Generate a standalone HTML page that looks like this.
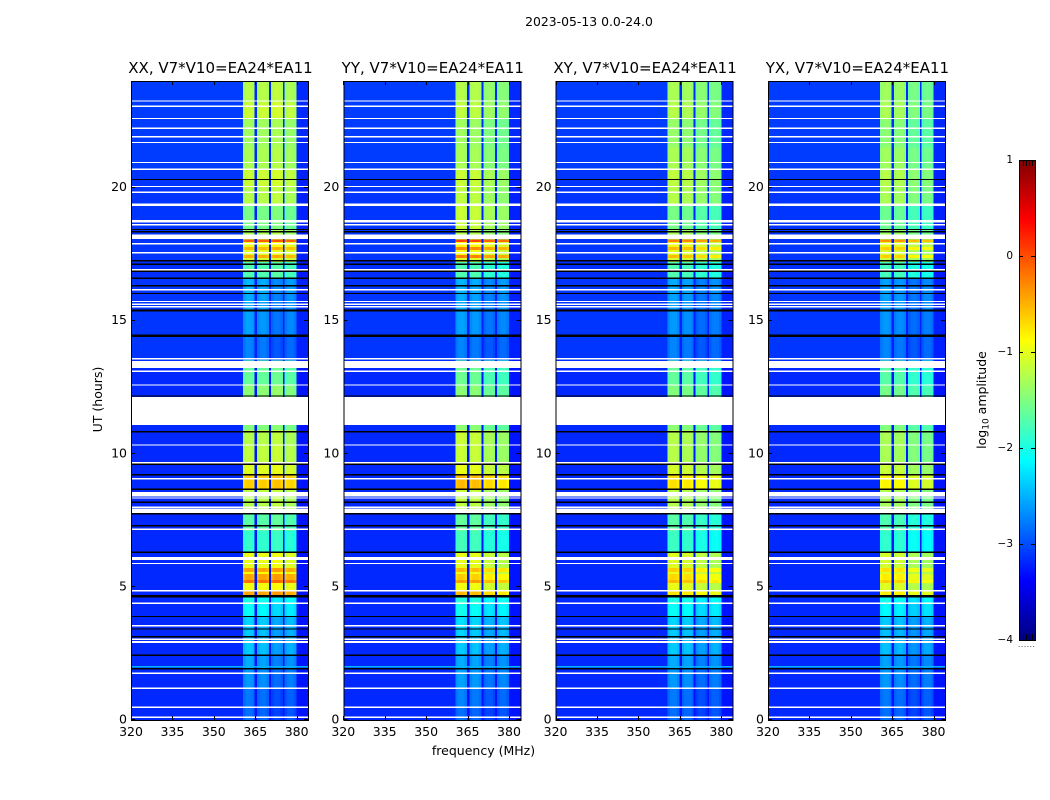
<!DOCTYPE html>
<html lang="en">
<head>
<meta charset="utf-8">
<title>2023-05-13 0.0-24.0 amplitude waterfall</title>
<style>
  html, body { margin: 0; padding: 0; background: #fff; }
  svg { display: block; }
  text { font-family: "DejaVu Sans", "Liberation Sans", sans-serif; fill: #000; }
</style>
</head>
<body>
<svg id="figure" xmlns="http://www.w3.org/2000/svg" width="1050" height="800" viewBox="0 0 1050 800">
  <rect x="0" y="0" width="1050" height="800" fill="#fff"/>
  <text x="589" y="26" font-size="12.4" text-anchor="middle">2023-05-13 0.0-24.0</text>
  <text x="483.5" y="755" font-size="12.5" text-anchor="middle">frequency (MHz)</text>
  <text transform="translate(102 399.5) rotate(-90)" font-size="12.5" text-anchor="middle">UT (hours)</text>
  <text transform="translate(986 400) rotate(-90)" font-size="12.5" text-anchor="middle">log<tspan font-size="9" dy="2.5">10</tspan><tspan dy="-2.5"> amplitude</tspan></text>
  <g id="panels"></g>
  <g id="colorbar"></g>
</svg>
<script>
const panelNames = ['XX', 'YY', 'XY', 'YX'];
const baselineLabel = 'V7*V10=EA24*EA11';
const freqTicks = [320, 335, 350, 365, 380];
const hourTicks = [0, 5, 10, 15, 20];
const colorbarTicks = [1, 0, -1, -2, -3, -4];
const colorbarMinorTicks = [0.97, 0.94, 0.91, 0.88, -3.88, -3.91, -3.94, -3.97];

/* frequency layout of the correlator output, MHz */
const subbands = [[360.6, 364.8], [365.7, 370], [370.7, 375], [375.6, 380]];
const channelShape = [-0.06, 0.02, 0.03, 0.02, -0.06];

/* time blocks, hours: level values below apply between successive edges */
const blockEdges = [0, 0.5, 1.2, 1.9, 2.4, 3.0, 3.5, 3.9, 4.4, 4.65, 4.85, 5.14, 5.26, 5.48, 5.56, 5.7, 6.3, 7.1, 7.75, 8.4, 8.7, 9.2, 9.6, 10.3, 10.9, 12.15, 12.6, 13.5, 14.4, 15.4, 16.0, 16.6, 17.2, 17.35, 17.46, 17.65, 17.76, 17.95, 18.05, 18.4, 19.3, 20.0, 20.7, 21.5, 22.6, 23.2, 24];

/* log10 amplitude inside the band, one value per time block */
const xxLevels = [-2.95, -2.9, -2.75, -2.65, -2.5, -2.5, -2.45, -2.2, -2.1, -0.45, -0.95, -0.2, -0.45, -0.9, -0.45, -1.0, -1.9, -1.7, -1.25, -1.2, -0.65, -1.05, -1.2, -1.25, -1.5, -1.45, -1.65, -2.85, -2.7, -2.65, -2.6, -1.75, -1.1, -0.5, -1.05, -0.55, -0.95, -0.1, -1.3, -1.55, -1.25, -1.15, -1.3, -1.35, -1.15, -1.25];
const yyLevels = [-2.95, -2.85, -2.7, -2.65, -2.5, -2.45, -2.4, -2.15, -2.05, -0.6, -1.0, -0.45, -0.7, -1.0, -0.6, -1.05, -1.85, -1.7, -1.25, -1.2, -0.6, -1.05, -1.2, -1.2, -1.5, -1.5, -1.65, -2.85, -2.7, -2.65, -2.6, -1.8, -1.1, -0.3, -1.0, -0.35, -0.9, 0.0, -1.3, -1.2, -1.25, -1.2, -1.35, -1.4, -1.25, -1.3];
const xyLevels = [-2.95, -2.9, -2.75, -2.65, -2.5, -2.5, -2.45, -2.2, -2.1, -0.8, -1.05, -0.6, -0.75, -1.05, -0.7, -1.1, -1.9, -1.75, -1.3, -1.25, -0.8, -1.15, -1.3, -1.3, -1.5, -1.55, -1.7, -2.85, -2.75, -2.7, -2.65, -1.8, -1.15, -0.6, -1.1, -0.6, -1.0, -0.3, -1.35, -1.6, -1.3, -1.25, -1.35, -1.45, -1.3, -1.35];
const yxLevels = [-2.95, -2.9, -2.75, -2.7, -2.55, -2.55, -2.5, -2.25, -2.15, -0.85, -1.1, -0.7, -0.85, -1.1, -0.8, -1.15, -1.95, -1.8, -1.35, -1.3, -0.9, -1.2, -1.35, -1.35, -1.55, -1.6, -1.75, -2.85, -2.75, -2.7, -2.7, -1.85, -1.2, -0.7, -1.15, -0.7, -1.05, -0.4, -1.4, -1.65, -1.35, -1.3, -1.4, -1.5, -1.35, -1.4];

/* off-band noise floor per time block, log10 amplitude */
const backgroundLevels = [-3.18, -3.18, -3.18, -3.18, -3.18, -3.18, -3.18, -3.18, -3.18, -3.18, -3.18, -3.18, -3.18, -3.18, -3.18, -3.18, -3.18, -3.18, -3.18, -3.18, -3.18, -3.18, -3.18, -3.18, -3.18, -3.18, -3.18, -3.12, -3.12, -3.12, -3.12, -3.15, -3.12, -3.12, -3.12, -3.12, -3.12, -3.12, -3.12, -3.12, -3.12, -3.12, -3.08, -3.08, -3.08, -3.08];

/* per-panel subband offsets in bright blocks, log10 amplitude */
const xxSubbandOffsets = [0.0, 0.0, 0.05, -0.05];
const yySubbandOffsets = [0.05, 0.03, -0.12, -0.18];
const xySubbandOffsets = [0.05, 0.0, -0.12, -0.2];
const yxSubbandOffsets = [0.05, 0.02, -0.15, -0.2];
/* subband offsets when the band is faint (below the threshold) */
const faintSubbandOffsets = [0.1, 0.05, -0.12, -0.03];
const faintThreshold = -2.0;

/* flagged integrations, hours */
const flaggedThinRows = [23.25, 23.05, 22.59, 22.22, 21.9, 21.69, 20.94, 20.68, 20.04, 19.82, 19.38, 19.33, 18.6, 17.89, 17.55, 16.91, 16.16, 15.72, 15.61, 15.52, 13.57, 13.1, 12.58, 10.33, 9.66, 9.06, 8.34, 7.99, 7.16, 5.88, 4.86, 4.38, 3.54, 3.03, 1.75, 1.19, 0.48, 0.1];
const flaggedBands = [[18.69, 18.78], [18.06, 18.24], [13.23, 13.48], [11.08, 12.14], [8.39, 8.57], [7.78, 7.95], [6.01, 6.12], [2.89, 2.97]];
const zeroThinRows = [20.3, 18.42, 18.34, 17.25, 17.12, 16.86, 16.59, 16.31, 16.02, 12.17, 10.83, 9.61, 9.21, 8.67, 7.75, 7.3, 3.89, 3.42, 3.13, 2.43, 1.93];
const zeroBands = [[15.35, 15.42], [14.39, 14.48], [8.15, 8.21], [6.27, 6.33], [4.61, 4.69]];
/* interference rows: [hour, log10 amplitude] */
const rfiRows = [[2.0, -2.5]];

const NS = 'http://www.w3.org/2000/svg';
const panelLevels = [xxLevels, yyLevels, xyLevels, yxLevels];
const panelOffsets = [xxSubbandOffsets, yySubbandOffsets, xySubbandOffsets, yxSubbandOffsets];
const axTop = 81, axBottom = 720, axWidth = 177, axFirstLeft = 131, axStep = 212.3;
const freqMin = 320, freqMax = 384.1, hourMin = 0, hourMax = 24;
const thinRowHours = 0.05;
const cbLeft = 1019, cbRight = 1035, cbTop = 160, cbBottom = 640, cbMin = -4, cbMax = 1;

function make(tag, attrs, parent) {
  const el = document.createElementNS(NS, tag);
  for (const k in attrs) el.setAttribute(k, attrs[k]);
  parent.appendChild(el);
  return el;
}
function clamp01(v) { return Math.max(0, Math.min(1, v)); }
function jet(v) {
  const t = clamp01(v);
  const r = clamp01(Math.min(4 * t - 1.5, -4 * t + 4.5));
  const g = clamp01(Math.min(4 * t - 0.5, -4 * t + 3.5));
  const b = clamp01(Math.min(4 * t + 0.5, -4 * t + 2.5));
  return 'rgb(' + Math.round(r * 255) + ',' + Math.round(g * 255) + ',' + Math.round(b * 255) + ')';
}
function levelColor(level) { return jet((level - cbMin) / (cbMax - cbMin)); }
function xScale(freq, left) { return left + (freq - freqMin) / (freqMax - freqMin) * axWidth; }
function yScale(hour) { return axBottom - (hour - hourMin) / (hourMax - hourMin) * (axBottom - axTop); }
function cbScale(level) { return cbBottom - (level - cbMin) / (cbMax - cbMin) * (cbBottom - cbTop); }

function hourRect(group, left, fromHour, toHour, fill, name) {
  const yTop = yScale(toHour), yBot = yScale(fromHour);
  const r = make('rect', { x: left, y: yTop, width: axWidth, height: Math.max(yBot - yTop, 1), fill: fill, 'shape-rendering': 'crispEdges' }, group);
  
  
}
function cell(group, left, f0, f1, h0, h1, level) {
  const x0 = xScale(f0, left), x1 = xScale(f1, left), yTop = yScale(h1), yBot = yScale(h0);
  const r = make('rect', { x: x0, y: yTop, width: x1 - x0, height: yBot - yTop, fill: levelColor(level), 'shape-rendering': 'crispEdges' }, group);
  
  
}

const panelsRoot = document.getElementById('panels');
panelNames.forEach(function (pol, p) {
  const left = axFirstLeft + p * axStep;
  const right = left + axWidth;
  const g = make('g', {}, panelsRoot);
  
  

  const title = make('text', { x: left + axWidth / 2 + 1, y: 73, 'font-size': 15, 'text-anchor': 'middle' }, g);
  
  
  title.textContent = pol + ', ' + baselineLabel;

  const heat = make('g', {}, g);
  
  

  const levels = panelLevels[p], offsets = panelOffsets[p];
  for (let b = 0; b < blockEdges.length - 1; b++) {
    const h0 = blockEdges[b], h1 = blockEdges[b + 1];
    const bg = backgroundLevels[b], lvl = levels[b];
    const off = lvl < faintThreshold ? faintSubbandOffsets : offsets;
    cell(heat, left, freqMin, subbands[0][0], h0, h1, bg);
    subbands.forEach(function (sb, s) {
      const w = (sb[1] - sb[0]) / channelShape.length;
      channelShape.forEach(function (shape, c) {
        cell(heat, left, sb[0] + c * w, sb[0] + (c + 1) * w, h0, h1, lvl + off[s] + shape);
      });
      const gapEnd = s < subbands.length - 1 ? subbands[s + 1][0] : freqMax;
      cell(heat, left, sb[1], gapEnd, h0, h1, bg - 0.1);
    });
  }
  rfiRows.forEach(function (row) {
    hourRect(heat, left, row[0] - thinRowHours / 2, row[0] + thinRowHours / 2, levelColor(row[1]), 'interference-row');
  });
  zeroThinRows.forEach(function (h) {
    hourRect(heat, left, h - thinRowHours / 2, h + thinRowHours / 2, '#000', 'zero-row');
  });
  zeroBands.forEach(function (band) {
    hourRect(heat, left, band[0], band[1], '#000', 'zero-band');
  });
  flaggedThinRows.forEach(function (h) {
    hourRect(heat, left, h - thinRowHours / 2, h + thinRowHours / 2, '#fff', 'flagged-row');
  });
  flaggedBands.forEach(function (band) {
    hourRect(heat, left, band[0], band[1], '#fff', 'flagged-band');
  });

  const frame = make('rect', { x: left + 0.5, y: axTop + 0.5, width: axWidth, height: axBottom - axTop, fill: 'none', stroke: '#000', 'stroke-width': 1, 'shape-rendering': 'crispEdges' }, g);
  
  

  freqTicks.forEach(function (f) {
    const x = Math.round(xScale(f, left)) + 0.5;
    [[axBottom, axBottom - 4], [axTop, axTop + 4]].forEach(function (seg) {
      const t = make('line', { x1: x, x2: x, y1: seg[0], y2: seg[1], stroke: '#000', 'stroke-width': 1, 'shape-rendering': 'crispEdges' }, g);
      
      
    });
    const lab = make('text', { x: xScale(f, left), y: 736, 'font-size': 12.5, 'text-anchor': 'middle' }, g);
    
    
    lab.textContent = f;
  });
  hourTicks.forEach(function (h) {
    const y = Math.round(yScale(h)) - 0.5;
    [[left, left + 4], [right, right - 4]].forEach(function (seg) {
      const t = make('line', { x1: seg[0], x2: seg[1], y1: y, y2: y, stroke: '#000', 'stroke-width': 1, 'shape-rendering': 'crispEdges' }, g);
      
      
    });
    const lab = make('text', { x: left - 4, y: yScale(h) + 3.5, 'font-size': 12.5, 'text-anchor': 'end' }, g);
    
    
    lab.textContent = h;
  });
});

/* colorbar */
const cb = document.getElementById('colorbar');
const defs = make('defs', {}, cb);
const grad = make('linearGradient', { id: 'jetGradient', x1: 0, y1: 1, x2: 0, y2: 0 }, defs);
for (let i = 0; i <= 32; i++) {
  make('stop', { offset: i / 32, 'stop-color': jet(i / 32) }, grad);
}
const cbBar = make('rect', { x: cbLeft, y: cbTop, width: cbRight - cbLeft, height: cbBottom - cbTop, fill: 'url(#jetGradient)' }, cb);


const cbFrame = make('rect', { x: cbLeft + 0.5, y: cbTop + 0.5, width: cbRight - cbLeft, height: cbBottom - cbTop, fill: 'none', stroke: '#000', 'stroke-width': 1, 'shape-rendering': 'crispEdges' }, cb);



colorbarTicks.forEach(function (v) {
  const y = Math.round(cbScale(v)) + 0.5;
  [[cbLeft, cbLeft + 4], [cbRight, cbRight - 4]].forEach(function (seg) {
    const t = make('line', { x1: seg[0], x2: seg[1], y1: y, y2: y, stroke: '#000', 'stroke-width': 1, 'shape-rendering': 'crispEdges' }, cb);
    
    
  });
  const lab = make('text', { x: cbLeft - 6, y: cbScale(v) + 3, 'font-size': 10.5, 'text-anchor': 'end' }, cb);
  
  
  lab.textContent = v < 0 ? '\u2212' + Math.abs(v) : String(v);
});
colorbarMinorTicks.forEach(function (v) {
  const yEdge = v > 0 ? cbTop : cbBottom;
  const dir = v > 0 ? 1 : -1;
  const x = cbLeft + 3.5 + Math.round(Math.abs(v - Math.trunc(v)) * 100 - 88);
  const t = make('line', { x1: Math.round(x) + 0.5, x2: Math.round(x) + 0.5, y1: yEdge, y2: yEdge + dir * 6, stroke: '#000', 'stroke-width': 1, 'shape-rendering': 'crispEdges' }, cb);
  
  
});
const dots = make('text', { x: cbLeft - 1, y: 647, 'font-size': 7, 'letter-spacing': 0.7, fill: '#777' }, cb);


dots.textContent = '......';
</script>
</body>
</html>
